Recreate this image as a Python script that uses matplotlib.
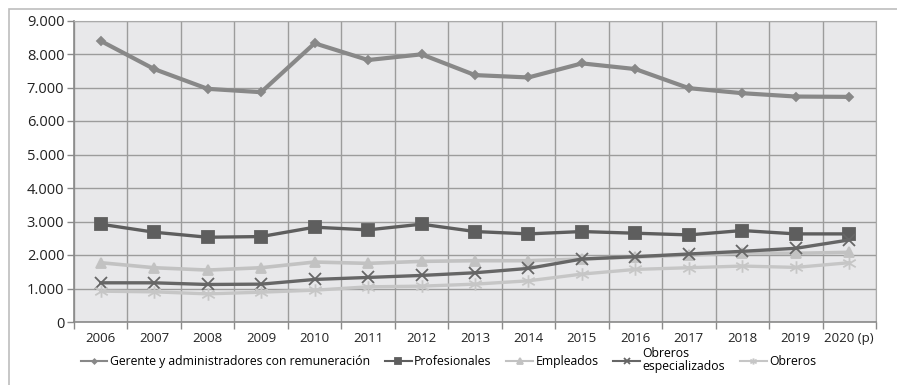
import numpy as np
import matplotlib.pyplot as plt
from matplotlib.patches import Rectangle
from matplotlib.path import Path

plt.rcParams['font.family'] = ['Open Sans', 'DejaVu Sans']

# ----------------------------------------------------------
# DATA
# ----------------------------------------------------------

years = ["2006", "2007", "2008", "2009", "2010", "2011", "2012", "2013",
         "2014", "2015", "2016", "2017", "2018", "2019", "2020 (p)"]

gerentes = [8390, 7550, 6960, 6860, 8320, 7820, 7990, 7370,
            7300, 7720, 7550, 6980, 6830, 6730, 6720]
profesionales = [2920, 2680, 2530, 2550, 2830, 2750, 2920, 2700,
                 2630, 2700, 2650, 2600, 2730, 2630, 2630]
empleados = [1770, 1620, 1550, 1620, 1790, 1750, 1810, 1830,
             1830, 1880, 1940, 2000, 2060, 2050, 2080]
obreros_esp = [1170, 1170, 1120, 1130, 1270, 1330, 1390, 1470,
               1600, 1880, 1950, 2030, 2110, 2200, 2450]
obreros = [920, 900, 840, 890, 950, 1050, 1070, 1130,
           1230, 1430, 1570, 1620, 1670, 1630, 1770]

# six-armed asterisk marker (vertical stroke + an x)
star = Path([(0, -1), (0, 1), (-1, -0.6), (1, 0.6), (-1, 0.6), (1, -0.6)],
            [Path.MOVETO, Path.LINETO] * 3)

series = [
    ("Gerente y administradores con remuneración", gerentes, "#888888", "D", 4.5, 3.0),
    ("Profesionales", profesionales, "#5e5e5e", "s", 8.5, 2.4),
    ("Empleados", empleados, "#c2c2c2", "^", 7.5, 2.6),
    ("Obreros\nespecializados", obreros_esp, "#666666", "x", 9, 2.4),
    ("Obreros", obreros, "#c6c6c6", star, 9, 2.4),
]

# ----------------------------------------------------------
# FIGURE
# ----------------------------------------------------------

W, H = 897, 385
fig = plt.figure(figsize=(W / 100, H / 100), dpi=100)

# outer frame
fig.patches.append(Rectangle((9 / W, -0.1), 1.2, (H - 9) / H + 0.1,
                             transform=fig.transFigure, fill=False,
                             edgecolor="#bdbdbd", linewidth=1.2))

ax = fig.add_axes([74 / W, (H - 322) / H, 802 / W, (322 - 20.5) / H])
ax.set_facecolor("#e8e8ea")

x = np.arange(len(years))
for label, vals, color, marker, ms, lw in series:
    ax.plot(x, vals, color=color, marker=marker, markersize=ms, linewidth=lw,
            markeredgewidth=1.3, label=label, solid_joinstyle="round")

ax.set_xlim(-0.5, len(years) - 0.5)
ax.set_ylim(0, 9000)
ax.set_yticks(np.arange(0, 9001, 1000))
ax.set_yticklabels([f"{v:,}".replace(",", ".") for v in range(0, 9001, 1000)])
ax.set_xticks(x)
ax.set_xticklabels(years)
ax.set_xticks(np.arange(-0.5, len(years)), minor=True)

ax.tick_params(axis="x", which="major", length=0, labelsize=9.5,
               pad=7, colors="#222222")
ax.tick_params(axis="x", which="minor", length=5, color="#8a8a8a", width=1)
ax.tick_params(axis="y", length=5, color="#8a8a8a", width=1,
               labelsize=10.5, pad=2, labelcolor="#222222")

ax.grid(True, which="major", axis="y", color="#9c9c9c", linewidth=1)
ax.grid(True, which="minor", axis="x", color="#9c9c9c", linewidth=1)
ax.set_axisbelow(True)
for side in ["top", "right"]:
    ax.spines[side].set_color("#aaaaaa")
for side in ["left", "bottom"]:
    ax.spines[side].set_color("#8a8a8a")
    ax.spines[side].set_linewidth(1.2)

leg = fig.legend(loc="center", bbox_to_anchor=(0.5, 0.064), ncol=5,
                 frameon=False, fontsize=8.8, handlelength=2.2, handletextpad=0.2,
                 columnspacing=1.2, markerscale=0.5, borderpad=0.1)
for line in leg.get_lines():
    line.set_linewidth(1.5)
for t in leg.get_texts():
    t.set_linespacing(1.0)

fig.savefig("out.png", dpi=100)
